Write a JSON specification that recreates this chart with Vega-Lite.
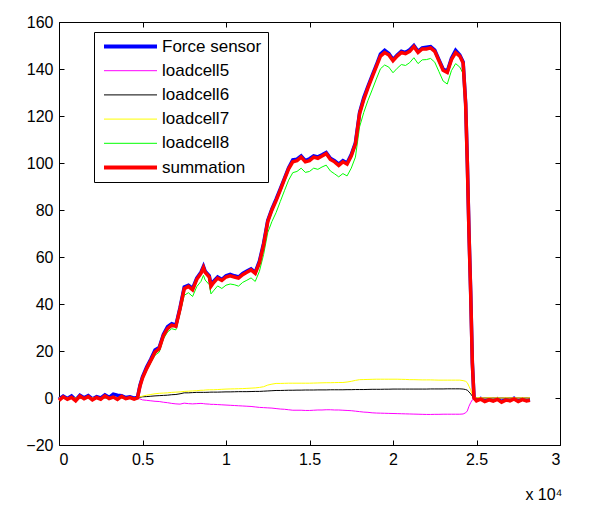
{
  "$schema": "https://vega.github.io/schema/vega-lite/v6.json",
  "width": 501,
  "height": 423,
  "autosize": {"type": "none"},
  "padding": {"left": 59, "top": 22, "right": 41, "bottom": 60},
  "background": "white",
  "config": {
    "view": {"stroke": "black", "strokeWidth": 1},
    "font": "Liberation Sans",
    "axis": {"grid": false, "domain": false, "tickColor": "black", "tickSize": -5, "tickWidth": 1, "labelPadding": 11, "labelFont": "Liberation Sans", "labelFontSize": 16, "labelColor": "black"}
  },
  "data": {"values": [
    {"x":0,"summation":-1.0,"Force sensor":-0.5,"loadcell5":0,"loadcell6":0,"loadcell7":0.1,"loadcell8":-1.1},
    {"x":250,"summation":0.5,"Force sensor":0.8,"loadcell5":-0.1,"loadcell6":0.1,"loadcell7":0,"loadcell8":0.5},
    {"x":500,"summation":-0.5,"Force sensor":-0.2,"loadcell5":0,"loadcell6":0,"loadcell7":0.1,"loadcell8":-0.6},
    {"x":750,"summation":0.3,"Force sensor":0.9,"loadcell5":0.1,"loadcell6":0,"loadcell7":0,"loadcell8":0.2},
    {"x":1000,"summation":-1.2,"Force sensor":-0.8,"loadcell5":0,"loadcell6":0.1,"loadcell7":0,"loadcell8":-1.3},
    {"x":1250,"summation":0.8,"Force sensor":1.2,"loadcell5":-0.1,"loadcell6":0,"loadcell7":0.1,"loadcell8":0.8},
    {"x":1500,"summation":-0.3,"Force sensor":0.1,"loadcell5":0,"loadcell6":0,"loadcell7":0,"loadcell8":-0.3},
    {"x":1750,"summation":0.6,"Force sensor":1.0,"loadcell5":0.1,"loadcell6":0.1,"loadcell7":0,"loadcell8":0.4},
    {"x":2000,"summation":-0.8,"Force sensor":-0.4,"loadcell5":0,"loadcell6":0,"loadcell7":0.1,"loadcell8":-0.9},
    {"x":2250,"summation":0.2,"Force sensor":0.6,"loadcell5":-0.1,"loadcell6":0.1,"loadcell7":0,"loadcell8":0.2},
    {"x":2500,"summation":-0.5,"Force sensor":0.0,"loadcell5":0,"loadcell6":0,"loadcell7":0,"loadcell8":-0.5},
    {"x":2750,"summation":0.9,"Force sensor":1.3,"loadcell5":0.1,"loadcell6":0,"loadcell7":0.1,"loadcell8":0.7},
    {"x":3000,"summation":-0.2,"Force sensor":0.3,"loadcell5":0,"loadcell6":0.1,"loadcell7":0,"loadcell8":-0.3},
    {"x":3250,"summation":0.4,"Force sensor":1.6,"loadcell5":-0.1,"loadcell6":0,"loadcell7":0.1,"loadcell8":0.4},
    {"x":3500,"summation":-0.6,"Force sensor":1.2,"loadcell5":0,"loadcell6":0,"loadcell7":0,"loadcell8":-0.6},
    {"x":3750,"summation":0.7,"Force sensor":1.0,"loadcell5":0.1,"loadcell6":0.1,"loadcell7":0,"loadcell8":0.5},
    {"x":4000,"summation":-0.3,"Force sensor":0.2,"loadcell5":0,"loadcell6":0,"loadcell7":0.1,"loadcell8":-0.4},
    {"x":4250,"summation":0.2,"Force sensor":0.5,"loadcell5":-0.1,"loadcell6":0,"loadcell7":0,"loadcell8":0.3},
    {"x":4500,"summation":-0.5,"Force sensor":-0.1,"loadcell5":0,"loadcell6":0.1,"loadcell7":0,"loadcell8":-0.6},
    {"x":4700,"summation":0.0,"Force sensor":0.3,"loadcell5":0,"loadcell6":0,"loadcell7":0.1,"loadcell8":-0.1},
    {"x":4850,"summation":5.0,"Force sensor":5.5,"loadcell5":-0.4,"loadcell6":0.3,"loadcell7":0.5,"loadcell8":4.6},
    {"x":5000,"summation":8.5,"Force sensor":9.0,"loadcell5":-0.8,"loadcell6":0.5,"loadcell7":0.8,"loadcell8":8.0},
    {"x":5250,"summation":12.5,"Force sensor":13.2,"loadcell5":-1.0,"loadcell6":0.6,"loadcell7":1.2,"loadcell8":11.7},
    {"x":5500,"summation":16.0,"Force sensor":16.6,"loadcell5":-1.2,"loadcell6":0.75,"loadcell7":1.5,"loadcell8":15.0},
    {"x":5750,"summation":19.5,"Force sensor":20.4,"loadcell5":-1.4,"loadcell6":0.9,"loadcell7":1.8,"loadcell8":18.2},
    {"x":6000,"summation":21.0,"Force sensor":21.5,"loadcell5":-1.5,"loadcell6":1.0,"loadcell7":2.0,"loadcell8":19.5},
    {"x":6250,"summation":26.5,"Force sensor":27.0,"loadcell5":-1.8,"loadcell6":1.1,"loadcell7":2.1,"loadcell8":25.1},
    {"x":6500,"summation":29.5,"Force sensor":30.3,"loadcell5":-2.0,"loadcell6":1.2,"loadcell7":2.2,"loadcell8":28.1},
    {"x":6750,"summation":31.0,"Force sensor":31.6,"loadcell5":-2.3,"loadcell6":1.4,"loadcell7":2.4,"loadcell8":29.5},
    {"x":7000,"summation":30.5,"Force sensor":31.0,"loadcell5":-2.5,"loadcell6":1.5,"loadcell7":2.5,"loadcell8":29.0},
    {"x":7250,"summation":38.0,"Force sensor":38.6,"loadcell5":-2.6,"loadcell6":1.8,"loadcell7":2.6,"loadcell8":36.2},
    {"x":7500,"summation":46.5,"Force sensor":47.2,"loadcell5":-2.2,"loadcell6":2.2,"loadcell7":2.8,"loadcell8":43.7},
    {"x":7750,"summation":47.5,"Force sensor":48.0,"loadcell5":-2.4,"loadcell6":2.2,"loadcell7":2.9,"loadcell8":44.8},
    {"x":8000,"summation":46.0,"Force sensor":46.6,"loadcell5":-2.5,"loadcell6":2.3,"loadcell7":3.0,"loadcell8":43.2},
    {"x":8250,"summation":50.5,"Force sensor":51.0,"loadcell5":-2.4,"loadcell6":2.4,"loadcell7":3.1,"loadcell8":47.4},
    {"x":8500,"summation":53.0,"Force sensor":53.5,"loadcell5":-2.3,"loadcell6":2.4,"loadcell7":3.3,"loadcell8":49.6},
    {"x":8650,"summation":55.5,"Force sensor":56.0,"loadcell5":-2.4,"loadcell6":2.4,"loadcell7":3.3,"loadcell8":52.2},
    {"x":8750,"summation":53.5,"Force sensor":54.0,"loadcell5":-2.5,"loadcell6":2.4,"loadcell7":3.4,"loadcell8":50.2},
    {"x":9000,"summation":51.5,"Force sensor":52.0,"loadcell5":-2.6,"loadcell6":2.45,"loadcell7":3.5,"loadcell8":48.2},
    {"x":9100,"summation":47.5,"Force sensor":48.0,"loadcell5":-2.7,"loadcell6":2.5,"loadcell7":3.5,"loadcell8":44.3},
    {"x":9250,"summation":49.0,"Force sensor":49.6,"loadcell5":-2.7,"loadcell6":2.5,"loadcell7":3.5,"loadcell8":45.6},
    {"x":9500,"summation":51.0,"Force sensor":51.5,"loadcell5":-2.8,"loadcell6":2.5,"loadcell7":3.6,"loadcell8":47.7},
    {"x":9750,"summation":50.0,"Force sensor":50.4,"loadcell5":-2.9,"loadcell6":2.55,"loadcell7":3.7,"loadcell8":46.6},
    {"x":10000,"summation":51.5,"Force sensor":52.0,"loadcell5":-3.0,"loadcell6":2.6,"loadcell7":3.8,"loadcell8":48.0},
    {"x":10250,"summation":52.0,"Force sensor":52.6,"loadcell5":-3.1,"loadcell6":2.6,"loadcell7":3.85,"loadcell8":48.5},
    {"x":10500,"summation":51.5,"Force sensor":52.0,"loadcell5":-3.2,"loadcell6":2.65,"loadcell7":3.9,"loadcell8":48.2},
    {"x":10750,"summation":51.0,"Force sensor":51.5,"loadcell5":-3.3,"loadcell6":2.7,"loadcell7":3.95,"loadcell8":47.6},
    {"x":11000,"summation":52.5,"Force sensor":53.0,"loadcell5":-3.4,"loadcell6":2.7,"loadcell7":4.0,"loadcell8":49.2},
    {"x":11250,"summation":53.5,"Force sensor":54.0,"loadcell5":-3.5,"loadcell6":2.7,"loadcell7":4.1,"loadcell8":50.1},
    {"x":11500,"summation":54.5,"Force sensor":55.0,"loadcell5":-3.6,"loadcell6":2.75,"loadcell7":4.2,"loadcell8":51.1},
    {"x":11750,"summation":53.0,"Force sensor":53.5,"loadcell5":-3.8,"loadcell6":2.8,"loadcell7":4.3,"loadcell8":49.6},
    {"x":12000,"summation":57.5,"Force sensor":58.2,"loadcell5":-4.0,"loadcell6":2.8,"loadcell7":4.5,"loadcell8":53.9},
    {"x":12250,"summation":65.0,"Force sensor":65.8,"loadcell5":-4.1,"loadcell6":2.9,"loadcell7":4.8,"loadcell8":61.0},
    {"x":12500,"summation":75.0,"Force sensor":75.6,"loadcell5":-4.2,"loadcell6":3.0,"loadcell7":5.5,"loadcell8":70.4},
    {"x":12750,"summation":80.0,"Force sensor":80.5,"loadcell5":-4.3,"loadcell6":3.1,"loadcell7":5.9,"loadcell8":75.1},
    {"x":13000,"summation":84.0,"Force sensor":84.6,"loadcell5":-4.5,"loadcell6":3.2,"loadcell7":6.2,"loadcell8":78.9},
    {"x":13250,"summation":88.5,"Force sensor":89.0,"loadcell5":-4.7,"loadcell6":3.2,"loadcell7":6.2,"loadcell8":83.6},
    {"x":13500,"summation":93.0,"Force sensor":93.5,"loadcell5":-4.8,"loadcell6":3.25,"loadcell7":6.25,"loadcell8":88.2},
    {"x":13750,"summation":97.5,"Force sensor":98.0,"loadcell5":-5.0,"loadcell6":3.3,"loadcell7":6.3,"loadcell8":92.7},
    {"x":14000,"summation":100.5,"Force sensor":101.3,"loadcell5":-5.2,"loadcell6":3.3,"loadcell7":6.3,"loadcell8":95.9},
    {"x":14250,"summation":101.0,"Force sensor":101.6,"loadcell5":-5.2,"loadcell6":3.35,"loadcell7":6.3,"loadcell8":96.4},
    {"x":14500,"summation":102.5,"Force sensor":103.0,"loadcell5":-5.2,"loadcell6":3.35,"loadcell7":6.3,"loadcell8":97.8},
    {"x":14750,"summation":100.5,"Force sensor":101.0,"loadcell5":-5.3,"loadcell6":3.4,"loadcell7":6.3,"loadcell8":96.0},
    {"x":15000,"summation":101.0,"Force sensor":101.8,"loadcell5":-5.3,"loadcell6":3.4,"loadcell7":6.3,"loadcell8":96.4},
    {"x":15250,"summation":102.5,"Force sensor":103.0,"loadcell5":-5.2,"loadcell6":3.4,"loadcell7":6.35,"loadcell8":97.8},
    {"x":15500,"summation":102.0,"Force sensor":102.6,"loadcell5":-5.1,"loadcell6":3.45,"loadcell7":6.4,"loadcell8":97.3},
    {"x":15750,"summation":103.0,"Force sensor":103.5,"loadcell5":-5.1,"loadcell6":3.45,"loadcell7":6.45,"loadcell8":98.3},
    {"x":16000,"summation":104.0,"Force sensor":104.5,"loadcell5":-5.0,"loadcell6":3.45,"loadcell7":6.5,"loadcell8":99.1},
    {"x":16250,"summation":101.5,"Force sensor":102.0,"loadcell5":-5.0,"loadcell6":3.5,"loadcell7":6.5,"loadcell8":96.6},
    {"x":16500,"summation":100.5,"Force sensor":101.0,"loadcell5":-5.1,"loadcell6":3.5,"loadcell7":6.55,"loadcell8":95.4},
    {"x":16750,"summation":99.0,"Force sensor":99.5,"loadcell5":-5.1,"loadcell6":3.5,"loadcell7":6.6,"loadcell8":94.1},
    {"x":17000,"summation":100.5,"Force sensor":101.0,"loadcell5":-5.2,"loadcell6":3.5,"loadcell7":6.6,"loadcell8":95.5},
    {"x":17250,"summation":99.5,"Force sensor":100.0,"loadcell5":-5.3,"loadcell6":3.55,"loadcell7":6.8,"loadcell8":94.5},
    {"x":17500,"summation":103.0,"Force sensor":103.6,"loadcell5":-5.4,"loadcell6":3.55,"loadcell7":7.1,"loadcell8":97.8},
    {"x":17750,"summation":108.0,"Force sensor":108.6,"loadcell5":-5.6,"loadcell6":3.6,"loadcell7":7.5,"loadcell8":102.5},
    {"x":18000,"summation":121.0,"Force sensor":121.6,"loadcell5":-5.8,"loadcell6":3.6,"loadcell7":7.8,"loadcell8":115.4},
    {"x":18250,"summation":127.0,"Force sensor":127.8,"loadcell5":-6.0,"loadcell6":3.6,"loadcell7":7.85,"loadcell8":121.5},
    {"x":18500,"summation":132.0,"Force sensor":132.6,"loadcell5":-6.1,"loadcell6":3.65,"loadcell7":7.9,"loadcell8":126.6},
    {"x":18750,"summation":136.5,"Force sensor":137.2,"loadcell5":-6.3,"loadcell6":3.7,"loadcell7":7.95,"loadcell8":131.1},
    {"x":19000,"summation":141.0,"Force sensor":141.6,"loadcell5":-6.4,"loadcell6":3.7,"loadcell7":8.0,"loadcell8":135.7},
    {"x":19250,"summation":145.5,"Force sensor":146.4,"loadcell5":-6.45,"loadcell6":3.7,"loadcell7":8.0,"loadcell8":140.1},
    {"x":19500,"summation":147.0,"Force sensor":148.0,"loadcell5":-6.5,"loadcell6":3.75,"loadcell7":8.0,"loadcell8":141.7},
    {"x":19750,"summation":146.0,"Force sensor":146.6,"loadcell5":-6.55,"loadcell6":3.75,"loadcell7":8.0,"loadcell8":140.8},
    {"x":20000,"summation":143.5,"Force sensor":144.0,"loadcell5":-6.6,"loadcell6":3.8,"loadcell7":8.0,"loadcell8":138.4},
    {"x":20250,"summation":145.5,"Force sensor":146.0,"loadcell5":-6.65,"loadcell6":3.8,"loadcell7":8.0,"loadcell8":140.3},
    {"x":20500,"summation":147.0,"Force sensor":147.6,"loadcell5":-6.7,"loadcell6":3.8,"loadcell7":7.95,"loadcell8":141.9},
    {"x":20750,"summation":146.5,"Force sensor":147.0,"loadcell5":-6.75,"loadcell6":3.8,"loadcell7":7.9,"loadcell8":141.5},
    {"x":21000,"summation":147.5,"Force sensor":148.2,"loadcell5":-6.8,"loadcell6":3.8,"loadcell7":7.8,"loadcell8":142.7},
    {"x":21250,"summation":149.5,"Force sensor":150.0,"loadcell5":-6.85,"loadcell6":3.8,"loadcell7":7.8,"loadcell8":144.8},
    {"x":21500,"summation":147.0,"Force sensor":147.5,"loadcell5":-6.9,"loadcell6":3.8,"loadcell7":7.75,"loadcell8":142.3},
    {"x":21750,"summation":148.5,"Force sensor":149.0,"loadcell5":-6.95,"loadcell6":3.8,"loadcell7":7.7,"loadcell8":143.9},
    {"x":22000,"summation":148.5,"Force sensor":149.3,"loadcell5":-7.0,"loadcell6":3.8,"loadcell7":7.7,"loadcell8":144.0},
    {"x":22250,"summation":149.0,"Force sensor":149.5,"loadcell5":-7.0,"loadcell6":3.85,"loadcell7":7.7,"loadcell8":144.5},
    {"x":22500,"summation":147.5,"Force sensor":148.0,"loadcell5":-6.95,"loadcell6":3.85,"loadcell7":7.65,"loadcell8":142.9},
    {"x":22750,"summation":143.5,"Force sensor":144.0,"loadcell5":-6.95,"loadcell6":3.85,"loadcell7":7.6,"loadcell8":138.9},
    {"x":23000,"summation":139.5,"Force sensor":140.0,"loadcell5":-6.9,"loadcell6":3.85,"loadcell7":7.6,"loadcell8":134.9},
    {"x":23250,"summation":138.5,"Force sensor":139.0,"loadcell5":-6.9,"loadcell6":3.9,"loadcell7":7.6,"loadcell8":133.6},
    {"x":23500,"summation":144.0,"Force sensor":144.6,"loadcell5":-6.9,"loadcell6":3.9,"loadcell7":7.6,"loadcell8":139.3},
    {"x":23750,"summation":147.0,"Force sensor":148.0,"loadcell5":-6.9,"loadcell6":3.9,"loadcell7":7.6,"loadcell8":142.3},
    {"x":24000,"summation":145.5,"Force sensor":146.0,"loadcell5":-6.9,"loadcell6":3.9,"loadcell7":7.6,"loadcell8":140.8},
    {"x":24200,"summation":142.5,"Force sensor":143.0,"loadcell5":-6.8,"loadcell6":3.8,"loadcell7":7.4,"loadcell8":138.0},
    {"x":24350,"summation":125.0,"Force sensor":125.5,"loadcell5":-6.3,"loadcell6":3.6,"loadcell7":7.1,"loadcell8":120.4},
    {"x":24450,"summation":100.0,"Force sensor":100.6,"loadcell5":-5.5,"loadcell6":3.3,"loadcell7":6.5,"loadcell8":95.5},
    {"x":24550,"summation":70.0,"Force sensor":70.5,"loadcell5":-3.5,"loadcell6":2.6,"loadcell7":5.0,"loadcell8":65.8},
    {"x":24650,"summation":45.0,"Force sensor":45.5,"loadcell5":-2.0,"loadcell6":1.8,"loadcell7":3.5,"loadcell8":41.6},
    {"x":24750,"summation":15.0,"Force sensor":15.3,"loadcell5":-0.8,"loadcell6":0.8,"loadcell7":1.5,"loadcell8":13.4},
    {"x":24850,"summation":0.0,"Force sensor":0.3,"loadcell5":-0.2,"loadcell6":0.2,"loadcell7":0.4,"loadcell8":-0.4},
    {"x":25000,"summation":-1.2,"Force sensor":-0.9,"loadcell5":0,"loadcell6":0,"loadcell7":0.1,"loadcell8":-1.3},
    {"x":25250,"summation":-0.5,"Force sensor":-0.2,"loadcell5":0,"loadcell6":0,"loadcell7":0.1,"loadcell8":-0.6},
    {"x":25500,"summation":-1.5,"Force sensor":-1.2,"loadcell5":0,"loadcell6":0,"loadcell7":0,"loadcell8":-1.5},
    {"x":25750,"summation":-0.8,"Force sensor":-0.5,"loadcell5":0,"loadcell6":0,"loadcell7":0.1,"loadcell8":-0.9},
    {"x":26000,"summation":-1.3,"Force sensor":-1.0,"loadcell5":0,"loadcell6":0,"loadcell7":0,"loadcell8":-1.3},
    {"x":26250,"summation":-0.6,"Force sensor":-0.3,"loadcell5":0,"loadcell6":0,"loadcell7":0.1,"loadcell8":-0.7},
    {"x":26500,"summation":-1.8,"Force sensor":-1.5,"loadcell5":0,"loadcell6":0,"loadcell7":0,"loadcell8":-1.8},
    {"x":26750,"summation":-0.9,"Force sensor":-0.6,"loadcell5":0,"loadcell6":0,"loadcell7":0.1,"loadcell8":-1.0},
    {"x":27000,"summation":-1.2,"Force sensor":-0.9,"loadcell5":0,"loadcell6":0,"loadcell7":0,"loadcell8":-1.2},
    {"x":27250,"summation":-0.4,"Force sensor":-0.1,"loadcell5":0,"loadcell6":0,"loadcell7":0.1,"loadcell8":-0.5},
    {"x":27500,"summation":-1.5,"Force sensor":-1.2,"loadcell5":0,"loadcell6":0,"loadcell7":0,"loadcell8":-1.5},
    {"x":27750,"summation":-0.7,"Force sensor":-0.4,"loadcell5":0,"loadcell6":0,"loadcell7":0.1,"loadcell8":-0.8},
    {"x":28000,"summation":-1.3,"Force sensor":-1.0,"loadcell5":0,"loadcell6":0,"loadcell7":0,"loadcell8":-1.3},
    {"x":28200,"summation":-1.0,"Force sensor":-0.7,"loadcell5":0,"loadcell6":0,"loadcell7":0.1,"loadcell8":-1.1}
  ]},
  "transform": [
    {"fold": ["Force sensor", "loadcell5", "loadcell6", "loadcell7", "loadcell8", "summation"], "as": ["series", "value"]}
  ],
  "layer": [
    {
      "transform": [{"filter": "datum.series === 'Force sensor'"}],
      "mark": {"type": "line", "strokeWidth": 3.5},
      "encoding": {
        "x": {"field": "x", "type": "quantitative", "scale": {"domain": [0, 30000], "nice": false, "zero": false},
              "axis": {"orient": "bottom", "values": [0, 5000, 10000, 15000, 20000, 25000, 30000], "labelExpr": "datum.value / 10000 + ''",
                       "title": "x 10⁴", "titleFont": "Liberation Sans", "titleFontSize": 16, "titleFontWeight": "normal", "titleColor": "black",
                       "titleAnchor": "end", "titleAlign": "right", "titleBaseline": "alphabetic", "titleX": 503, "titleY": 54}},
        "y": {"field": "value", "type": "quantitative", "scale": {"domain": [-20, 160], "nice": false, "zero": false},
              "axis": {"orient": "left", "values": [-20, 0, 20, 40, 60, 80, 100, 120, 140, 160], "format": "d", "title": null}},
        "color": {"field": "series", "type": "nominal",
                  "scale": {"domain": ["Force sensor", "loadcell5", "loadcell6", "loadcell7", "loadcell8", "summation"],
                            "range": ["#0000ff", "#ff00ff", "#000000", "#ffff00", "#00ff00", "#ff0000"]},
                  "legend": {"title": null, "orient": "none", "legendX": 35, "legendY": 10, "symbolType": "stroke", "symbolSize": 2809,
                             "labelFont": "Liberation Sans", "labelFontSize": 17, "labelColor": "black", "labelOffset": 23, "symbolOffset": 22,
                             "strokeColor": "black", "fillColor": "white", "padding": 6, "rowPadding": 6.2,
                             "encode": {"symbols": {"update": {
                               "stroke": {"signal": "datum.value === 'Force sensor' ? '#0000ff' : datum.value === 'loadcell5' ? '#ff00ff' : datum.value === 'loadcell6' ? '#000000' : datum.value === 'loadcell7' ? '#ffff00' : datum.value === 'loadcell8' ? '#00ff00' : '#ff0000'"},
                               "strokeWidth": {"signal": "datum.value === 'Force sensor' || datum.value === 'summation' ? 4 : 1"},
                               "opacity": {"value": 1}}}}}}
      }
    },
    {
      "transform": [{"filter": "datum.series !== 'Force sensor' && datum.series !== 'summation'"}],
      "mark": {"type": "line", "strokeWidth": 1},
      "encoding": {
        "x": {"field": "x", "type": "quantitative", "scale": {"domain": [0, 30000], "nice": false, "zero": false},
              "axis": {"orient": "top", "values": [0, 5000, 10000, 15000, 20000, 25000, 30000], "labels": false, "title": null}},
        "y": {"field": "value", "type": "quantitative", "scale": {"domain": [-20, 160], "nice": false, "zero": false},
              "axis": {"orient": "right", "values": [-20, 0, 20, 40, 60, 80, 100, 120, 140, 160], "labels": false, "title": null}},
        "color": {"field": "series", "type": "nominal",
                  "scale": {"domain": ["Force sensor", "loadcell5", "loadcell6", "loadcell7", "loadcell8", "summation"],
                            "range": ["#0000ff", "#ff00ff", "#000000", "#ffff00", "#00ff00", "#ff0000"]}}
      }
    },
    {
      "transform": [{"filter": "datum.series === 'summation'"}],
      "mark": {"type": "line", "strokeWidth": 3.5},
      "encoding": {
        "x": {"field": "x", "type": "quantitative", "scale": {"domain": [0, 30000], "nice": false, "zero": false}, "axis": null},
        "y": {"field": "value", "type": "quantitative", "scale": {"domain": [-20, 160], "nice": false, "zero": false}, "axis": null},
        "color": {"field": "series", "type": "nominal",
                  "scale": {"domain": ["Force sensor", "loadcell5", "loadcell6", "loadcell7", "loadcell8", "summation"],
                            "range": ["#0000ff", "#ff00ff", "#000000", "#ffff00", "#00ff00", "#ff0000"]}}
      }
    }
  ],
  "resolve": {"axis": {"x": "independent", "y": "independent"}}
}
